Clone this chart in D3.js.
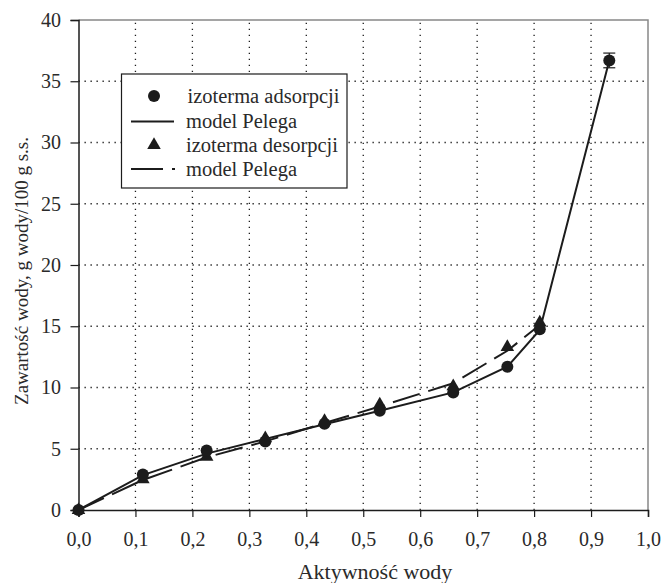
<!DOCTYPE html>
<html>
<head>
<meta charset="utf-8">
<script src="https://cdn.jsdelivr.net/npm/d3@7"></script>
<style>
  body { margin: 0; background: #fff; }
  svg text { font-family: "Liberation Serif", "Times New Roman", serif; }
</style>
</head>
<body>
<svg id="chart" width="661" height="583"></svg>
<script>
const width = 661;
const height = 583;

// data
const awAds = [0, 0.113, 0.225, 0.328, 0.432, 0.529, 0.658, 0.753, 0.810, 0.932];
const adsorption = [0, 2.9, 4.85, 5.6, 7.05, 8.1, 9.6, 11.7, 14.75, 36.7];
const adsorptionErr = [0, 0, 0, 0, 0, 0, 0, 0, 0, 0.6];
const pelegAds = [0, 2.85, 4.6, 5.8, 7.0, 8.1, 9.6, 11.7, 14.7, 36.7];

const awDes = [0, 0.113, 0.225, 0.328, 0.432, 0.529, 0.658, 0.753, 0.810];
const desorption = [0, 2.5, 4.35, 5.85, 7.25, 8.6, 10.1, 13.3, 15.3];
const pelegDes = [0, 2.45, 4.3, 5.6, 7.1, 8.45, 10.35, 13.0, 15.1];

const xTicks = [0, 0.1, 0.2, 0.3, 0.4, 0.5, 0.6, 0.7, 0.8, 0.9, 1.0];
const yTicks = [0, 5, 10, 15, 20, 25, 30, 35, 40];

const legendItems = [
  {label: "izoterma adsorpcji", type: "circle"},
  {label: "model Pelega", type: "solid"},
  {label: "izoterma desorpcji", type: "triangle"},
  {label: "model Pelega", type: "dashed"}
];

const margin = {top: 20, right: 13, bottom: 73, left: 78.5};
const fontName = "Liberation Serif";
const textColor = "#2a2a2a";
const ink = "#1c1c1c";

const svg = d3.select("#chart");

const x = d3.scaleLinear().domain([0, 1]).range([margin.left, width - margin.right]);
const y = d3.scaleLinear().domain([0, 40]).range([height - margin.bottom, margin.top]);

//grid
svg.append("g")
  .selectAll("line")
  .data(yTicks.slice(1, -1))
  .enter().append("line")
  .attr("x1", x(0)).attr("x2", x(1))
  .attr("y1", d => y(d)).attr("y2", d => y(d))
  .attr("stroke", ink)
  .attr("stroke-width", 1.3)
  .attr("stroke-dasharray", "1.3,4.7");

svg.append("g")
  .selectAll("line")
  .data(xTicks.slice(1, -1))
  .enter().append("line")
  .attr("x1", d => x(d)).attr("x2", d => x(d))
  .attr("y1", y(0)).attr("y2", y(40))
  .attr("stroke", ink)
  .attr("stroke-width", 1.3)
  .attr("stroke-dasharray", "1.3,4.7");

// frame top / right
svg.append("path")
  .attr("d", `M${x(0)},${y(40)}H${x(1)}V${y(0)}`)
  .attr("fill", "none")
  .attr("stroke", "#888")
  .attr("stroke-width", 1.5);

// axes
const xAxis = d3.axisBottom(x)
  .tickValues(xTicks)
  .tickSize(7)
  .tickPadding(15)
  .tickFormat(d => d3.format(".1f")(d).replace(".", ","));

const yAxis = d3.axisLeft(y)
  .tickValues(yTicks)
  .tickSize(8)
  .tickPadding(9.5)
  .tickFormat(d3.format("d"));

const gx = svg.append("g")
  .attr("transform", `translate(0,${y(0)})`)
  .call(xAxis);
const gy = svg.append("g")
  .attr("transform", `translate(${x(0)},0)`)
  .call(yAxis);

[gx, gy].forEach(g => {
  g.attr("font-family", fontName).attr("font-size", 20);
  g.select(".domain").attr("stroke", ink).attr("stroke-width", 1.5);
  g.selectAll(".tick line").attr("stroke", ink).attr("stroke-width", 1.2);
  g.selectAll(".tick text").attr("fill", textColor);
});

// axis titles
svg.append("text")
  .attr("x", 375)
  .attr("y", 579)
  .attr("text-anchor", "middle")
  .attr("font-family", fontName)
  .attr("font-size", 22)
  .attr("fill", textColor)
  .text("Aktywność wody");

svg.append("text")
  .attr("transform", `translate(28,271) rotate(-90)`)
  .attr("text-anchor", "middle")
  .attr("font-family", fontName)
  .attr("font-size", 19)
  .attr("fill", textColor)
  .text("Zawartość wody, g wody/100 g s.s.");

// model lines
const adsPts = awAds.map((a, i) => ({a: a, w: adsorption[i], m: pelegAds[i], e: adsorptionErr[i]}));
const desPts = awDes.map((a, i) => ({a: a, w: desorption[i], m: pelegDes[i]}));

const modelLine = d3.line().x(d => x(d.a)).y(d => y(d.m));

svg.append("path")
  .datum(desPts)
  .attr("d", modelLine)
  .attr("fill", "none")
  .attr("stroke", ink)
  .attr("stroke-width", 2)
  .attr("stroke-dasharray", "28,9");

svg.append("path")
  .datum(adsPts)
  .attr("d", modelLine)
  .attr("fill", "none")
  .attr("stroke", ink)
  .attr("stroke-width", 2);

// error bars
const errPts = adsPts.filter(d => d.e > 0);
const eb = svg.append("g").selectAll("g").data(errPts).enter().append("g");
eb.append("line")
  .attr("x1", d => x(d.a)).attr("x2", d => x(d.a))
  .attr("y1", d => y(d.w - d.e)).attr("y2", d => y(d.w + d.e))
  .attr("stroke", ink).attr("stroke-width", 1.2);
eb.selectAll(".cap")
  .data(d => [d.w - d.e, d.w + d.e].map(v => ({a: d.a, v: v})))
  .enter().append("line")
  .attr("x1", d => x(d.a) - 6).attr("x2", d => x(d.a) + 6)
  .attr("y1", d => y(d.v)).attr("y2", d => y(d.v))
  .attr("stroke", ink).attr("stroke-width", 1.2);

// markers
const tri = d3.symbol().type(d3.symbolTriangle).size(80);

svg.append("g")
  .selectAll("path")
  .data(desPts)
  .enter().append("path")
  .attr("d", tri)
  .attr("transform", d => `translate(${x(d.a)},${y(d.w)})`)
  .attr("fill", ink);

svg.append("g")
  .selectAll("circle")
  .data(adsPts)
  .enter().append("circle")
  .attr("cx", d => x(d.a))
  .attr("cy", d => y(d.w))
  .attr("r", 6)
  .attr("fill", ink);

// legend
const legend = svg.append("g");
legend.append("rect")
  .attr("x", 121.5).attr("y", 74)
  .attr("width", 225.5).attr("height", 114)
  .attr("fill", "#fff")
  .attr("stroke", ink)
  .attr("stroke-width", 1.2);

const rowY = [96, 121.5, 145, 169];
const rows = legend.selectAll("g.row")
  .data(legendItems)
  .enter().append("g")
  .attr("transform", (d, i) => `translate(0,${rowY[i]})`);

rows.filter(d => d.type === "circle").append("circle")
  .attr("cx", 154).attr("cy", 0).attr("r", 6).attr("fill", ink);
rows.filter(d => d.type === "triangle").append("path")
  .attr("d", tri).attr("transform", "translate(154,0)").attr("fill", ink);
rows.filter(d => d.type === "solid").append("line")
  .attr("x1", 131).attr("x2", 174).attr("stroke", ink).attr("stroke-width", 2);
rows.filter(d => d.type === "dashed").append("line")
  .attr("x1", 131).attr("x2", 177).attr("stroke", ink).attr("stroke-width", 2)
  .attr("stroke-dasharray", "32,9,3,9");

rows.append("text")
  .attr("x", (d, i) => i === 0 ? 187.5 : 186)
  .attr("y", 0)
  .attr("dy", "0.33em")
  .attr("font-family", fontName)
  .attr("font-size", 20.5)
  .attr("fill", textColor)
  .text(d => d.label);
</script>
</body>
</html>
